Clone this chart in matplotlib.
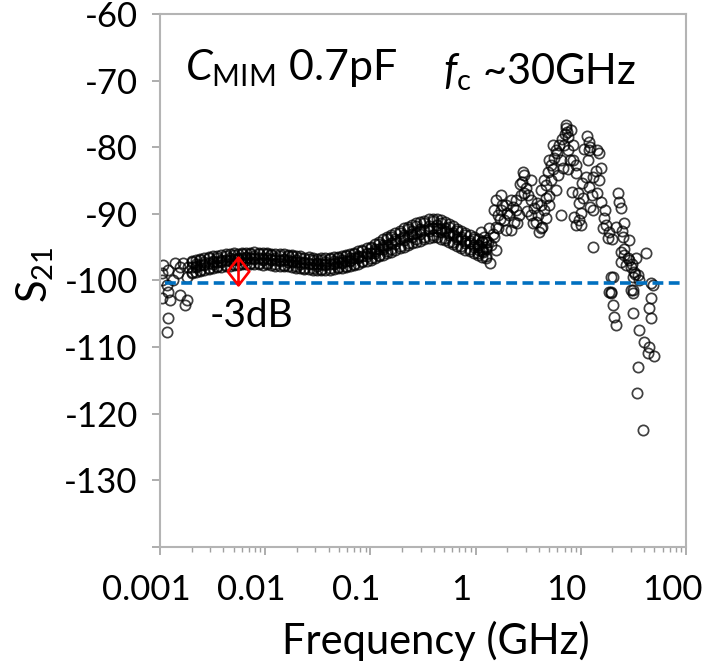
import numpy as np
import matplotlib
matplotlib.use("Agg")
from matplotlib import pyplot as plt
from matplotlib import transforms
from matplotlib.path import Path
from matplotlib.ticker import FixedLocator, LogLocator, NullFormatter

plt.rcParams["font.family"] = ["Lato", "DejaVu Sans"]
plt.rcParams["mathtext.fontset"] = "custom"
plt.rcParams["mathtext.rm"] = "Lato"
plt.rcParams["mathtext.it"] = "Lato:italic"

# dense part of the sweep, 2 MHz .. 1.3 GHz (rows across the thickness of the band)
band_freq = [
    0.0020, 0.0022, 0.0024, 0.0026, 0.0029, 0.0032, 0.0035, 0.0038, 0.0042, 0.0046, 0.0050, 0.0055,
    0.0060, 0.0066, 0.0072, 0.0079, 0.0087, 0.0095, 0.0104, 0.0114, 0.0125, 0.0137, 0.0150, 0.0164,
    0.0180, 0.0197, 0.0216, 0.0236, 0.0259, 0.0283, 0.0310, 0.0340, 0.0370, 0.0410, 0.0450, 0.0490,
    0.0540, 0.0590, 0.0640, 0.0700, 0.0770, 0.0840, 0.0920, 0.1010, 0.1100, 0.1210, 0.1320, 0.1450,
    0.1580, 0.1730, 0.1900, 0.2080, 0.2270, 0.2490, 0.2720, 0.2980, 0.3260, 0.3570, 0.3900, 0.4300,
    0.4700, 0.5100, 0.5600, 0.6100, 0.6700, 0.7300, 0.8000, 0.8800, 0.9600, 1.0500, 1.1500, 1.2600,
]
band_upper = [
    -97.1, -97.0, -96.8, -96.7, -96.5, -96.4, -96.4, -96.2, -96.1, -96.1, -95.9, -96.0,
    -95.8, -95.8, -95.9, -95.7, -95.9, -95.9, -95.8, -96.0, -96.0, -96.1, -96.1, -96.2,
    -96.2, -96.4, -96.4, -96.6, -96.5, -96.7, -96.8, -96.7, -96.7, -96.6, -96.5, -96.5,
    -96.3, -96.2, -96.0, -95.8, -95.6, -95.4, -95.1, -94.9, -94.5, -94.2, -93.8, -93.5,
    -93.1, -92.8, -92.5, -92.1, -91.9, -91.6, -91.4, -91.2, -91.0, -90.8, -90.7, -90.8,
    -90.9, -91.2, -91.5, -91.8, -92.2, -92.5, -92.8, -93.1, -93.4, -93.7, -94.0, -94.2,
]
band_upper2 = [
    -97.3, -97.6, -97.0, -97.3, -96.7, -97.1, -96.6, -96.9, -96.3, -96.7, -96.2, -96.6,
    -96.0, -96.5, -96.1, -96.4, -96.0, -96.6, -96.1, -96.2, -96.7, -96.3, -96.8, -96.4,
    -96.4, -97.0, -96.6, -97.2, -96.8, -96.9, -97.4, -96.9, -97.3, -96.8, -97.1, -96.7,
    -96.9, -96.4, -96.7, -96.0, -96.3, -95.6, -95.9, -95.1, -95.3, -94.5, -94.7, -93.8,
    -93.5, -93.8, -92.9, -93.1, -92.3, -92.6, -91.8, -92.2, -91.4, -91.8, -91.1, -91.7,
    -91.3, -92.1, -91.9, -92.8, -92.5, -93.4, -93.1, -94.0, -93.7, -94.6, -94.2, -94.9,
]
band_mid = [
    -98.0, -97.8, -97.7, -97.5, -97.4, -97.3, -97.2, -97.1, -97.0, -96.9, -96.8, -96.8,
    -96.7, -96.6, -96.7, -96.6, -96.7, -96.8, -96.7, -96.8, -96.9, -96.9, -97.0, -97.0,
    -97.1, -97.2, -97.3, -97.4, -97.4, -97.5, -97.6, -97.6, -97.5, -97.5, -97.4, -97.3,
    -97.2, -97.1, -96.9, -96.7, -96.5, -96.3, -96.1, -95.9, -95.6, -95.3, -95.0, -94.7,
    -94.4, -94.1, -93.8, -93.5, -93.3, -93.0, -92.8, -92.6, -92.4, -92.2, -92.1, -92.1,
    -92.3, -92.6, -92.9, -93.2, -93.5, -93.8, -94.0, -94.3, -94.6, -94.9, -95.2, -95.3,
]
band_lower2 = [
    -98.7, -98.0, -98.4, -97.7, -98.1, -97.5, -97.9, -97.3, -97.7, -97.1, -97.5, -97.0,
    -97.4, -96.9, -97.4, -96.8, -97.4, -97.0, -97.4, -97.0, -97.6, -97.1, -97.7, -97.2,
    -97.3, -97.9, -97.5, -98.1, -97.6, -98.2, -97.8, -98.3, -97.7, -98.2, -97.6, -98.0,
    -97.4, -97.8, -97.1, -97.5, -96.7, -97.1, -96.3, -96.7, -95.9, -96.2, -95.3, -95.6,
    -95.3, -94.5, -94.8, -93.9, -94.3, -93.4, -93.8, -93.0, -93.4, -92.6, -93.1, -92.5,
    -92.7, -93.6, -93.2, -94.2, -93.8, -94.8, -94.4, -95.3, -94.9, -95.9, -95.5, -96.3,
]
band_lower = [
    -98.9, -98.7, -98.6, -98.4, -98.3, -98.2, -98.0, -98.0, -97.9, -97.8, -97.7, -97.7,
    -97.6, -97.5, -97.6, -97.5, -97.6, -97.7, -97.6, -97.7, -97.8, -97.8, -97.9, -97.9,
    -98.0, -98.1, -98.2, -98.3, -98.3, -98.4, -98.4, -98.5, -98.4, -98.4, -98.3, -98.2,
    -98.1, -98.0, -97.9, -97.7, -97.5, -97.3, -97.1, -96.9, -96.7, -96.4, -96.2, -95.9,
    -95.7, -95.4, -95.1, -94.9, -94.7, -94.4, -94.2, -94.0, -93.8, -93.6, -93.5, -93.5,
    -93.7, -93.9, -94.2, -94.5, -94.8, -95.1, -95.4, -95.6, -95.9, -96.2, -96.5, -96.6,
]

# scattered points below 2 MHz
low_freq = [0.00107, 0.00104, 0.00119, 0.00139, 0.00155, 0.00165, 0.00104, 0.00117, 0.00133, 0.00119,
            0.00104, 0.00124, 0.00155, 0.00180, 0.00173, 0.00119, 0.00117, 0.00148, 0.00180, 0.00184]
low_s21 = [-97.7, -98.9, -98.4, -97.4, -98.0, -97.4, -99.9, -100.7, -99.9, -101.7,
           -102.6, -102.9, -102.2, -102.9, -103.7, -105.6, -107.7, -98.9, -99.5, -98.0]

# scattered points above 1 GHz
high_freq = [
    1.116, 1.245, 1.389, 1.068, 1.483, 1.329, 1.166, 1.549, 1.36,
    1.549, 1.73, 1.93, 2.15, 2.40, 1.62, 1.85, 2.06, 2.30, 1.65, 1.93, 2.40, 2.56, 1.48, 2.15, 1.73,
    2.80, 2.86, 2.74, 2.99, 3.12, 2.68, 3.33,
    3.33, 3.56, 3.88, 4.15, 4.63, 3.72, 4.15, 4.63, 3.33, 3.97, 4.43, 4.94,
    4.15, 4.43, 4.83, 5.16, 5.51, 5.76, 6.16, 6.42, 5.39, 4.63, 5.16, 6.02, 6.71, 4.94, 5.76, 6.42,
    7.17, 7.17, 7.33, 7.49, 6.86, 7.49, 7.84,
    8.00, 8.36, 8.36, 8.93, 11.9, 11.9, 14.4, 14.8, 11.6, 11.1, 11.9, 13.2, 15.4, 14.8,
    9.33, 9.53, 10.6, 12.9, 13.2, 8.55, 9.53, 9.96, 8.93, 15.4, 13.2,
    22.4, 22.9, 23.9, 16.5, 17.2, 18.4, 16.1, 18.0, 21.4, 25.5, 25.0, 28.5,
    23.9, 25.5, 27.8, 23.9, 26.7, 29.7, 31.8, 34.7, 33.2, 41.3, 31.1, 20.1,
    46.1, 31.1, 19.2, 19.2, 18.4, 19.2, 20.1, 20.5, 21.4, 29.7, 31.1, 31.1,
    48.1, 46.1, 44.1, 46.1, 35.4, 39.5, 44.1, 43.1, 49.2, 34.7, 33.9, 38.6,
]
high_s21 = [
    -92.7, -93.9, -94.7, -95.4, -93.5, -92.1, -95.7, -95.4, -97.4,
    -87.9, -87.2, -88.7, -87.9, -89.4, -90.2, -90.9, -90.2, -91.2, -92.1, -92.4, -87.9, -90.2, -89.4, -92.4, -89.4,
    -83.7, -84.2, -85.2, -86.1, -87.2, -87.2, -84.9,
    -87.9, -89.1, -90.2, -88.7, -87.6, -91.2, -92.1, -90.6, -90.2, -92.7, -89.4, -88.7,
    -86.4, -84.9, -83.7, -82.7, -81.6, -80.4, -79.7, -81.9, -79.7, -85.7, -84.9, -84.2, -83.1, -81.9, -86.4, -90.2,
    -76.7, -77.1, -77.7, -78.5, -79.7, -80.4, -81.9,
    -77.4, -79.7, -81.9, -83.9, -79.2, -80.4, -80.4, -80.9, -81.9, -84.5, -86.0, -84.5, -83.1, -84.9,
    -86.9, -88.4, -87.6, -87.2, -89.4, -90.5, -90.9, -89.9, -91.7, -88.2, -95.0,
    -86.9, -88.2, -89.1, -90.6, -91.7, -92.7, -92.1, -93.6, -92.0, -91.4, -93.5, -93.9,
    -95.7, -96.2, -96.6, -97.2, -97.7, -98.0, -98.7, -99.2, -96.6, -95.9, -99.5, -99.5,
    -100.4, -101.4, -101.7, -99.5, -101.7, -101.9, -103.7, -105.5, -106.7, -101.4, -101.9, -104.9,
    -100.7, -102.6, -104.1, -105.6, -107.4, -109.2, -110.0, -110.9, -111.3, -113.0, -116.9, -122.4,
]
extra_freq = [
    1.45, 1.30, 1.20, 1.55, 1.70, 1.80, 2.00, 2.25, 2.50, 2.65,
    2.90, 3.10, 3.50, 3.80, 4.30, 5.00, 5.40, 6.00, 6.60, 7.00,
    7.50, 8.20, 9.00, 10.2, 10.8, 11.5, 12.3, 13.8, 14.1, 12.1,
    10.0, 16.8, 19.8, 24.5, 26.0, 28.9, 30.5, 33.0, 35.5,
]
extra_s21 = [
    -93.0, -94.2, -93.4, -91.9, -90.7, -88.6, -89.9, -88.9, -91.3, -85.5,
    -86.9, -89.6, -91.4, -88.3, -91.9, -87.3, -83.2, -80.9, -78.8, -78.0,
    -83.3, -86.7, -82.6, -85.4, -80.2, -78.3, -79.9, -83.6, -86.8, -88.9,
    -91.6, -89.4, -93.8, -92.6, -95.3, -96.9, -97.5, -99.0, -100.0,
]

cutoff_level = -100.4      # -3 dB reference line
marker_freq = 0.0055       # red -3 dB marker
marker_s21 = -98.6

y_ticks = [-140, -130, -120, -110, -100, -90, -80, -70, -60]
y_labels = ["", "-130", "-120", "-110", "-100", "-90", "-80", "-70", "-60"]
x_ticks = [0.001, 0.01, 0.1, 1, 10, 100]
x_labels = ["0.001", "0.01", "0.1", "1", "10", "100"]

fig = plt.figure(figsize=(7.12, 6.63), dpi=100)
ax = fig.add_axes([0.2247, 0.175, 0.7388, 0.8039])

freq = np.concatenate([low_freq, band_freq, band_freq, band_freq, band_freq, band_freq,
                       high_freq, extra_freq])
s21 = np.concatenate([low_s21, band_upper, band_upper2, band_mid, band_lower2, band_lower,
                      high_s21, extra_s21])
ax.plot(freq, s21, linestyle="none", marker="o", markersize=7.4,
        markerfacecolor="none", markeredgecolor=(0, 0, 0, 0.75), markeredgewidth=1.25)

ax.axhline(cutoff_level, xmin=0.01, xmax=0.995, color="#0070C0", lw=2.6, dashes=(3.0, 1.5))

# diamond with a vertical bar through it
diamond = Path([(-0.78, 0), (0, 1), (0.78, 0), (0, -1), (-0.78, 0), (0, 1), (0, -1)],
               [Path.MOVETO, Path.LINETO, Path.LINETO, Path.LINETO, Path.LINETO, Path.MOVETO, Path.LINETO])
ax.plot([marker_freq], [marker_s21], linestyle="none", marker=diamond, markersize=20,
        markerfacecolor="none", markeredgecolor="#FF0000", markeredgewidth=1.9)

ax.set_xscale("log")
ax.set_xlim(0.001, 100)
ax.set_ylim(-140, -60)

ax.xaxis.set_major_locator(FixedLocator(x_ticks))
ax.set_xticklabels(x_labels)
ax.xaxis.set_minor_locator(LogLocator(base=10, subs=np.arange(2, 10)))
ax.xaxis.set_minor_formatter(NullFormatter())
ax.set_yticks(y_ticks)
ax.set_yticklabels(y_labels)

for side in ["left", "bottom", "top", "right"]:
    ax.spines[side].set_color("#B4B4B4")
    ax.spines[side].set_linewidth(1.5)

ax.tick_params(axis="x", which="major", direction="out", length=5.5, width=1.2, color="#A0A0A0",
               labelsize=25, pad=14)
ax.tick_params(axis="x", which="minor", direction="out", length=3.5, width=1.0, color="#A0A0A0")
ax.tick_params(axis="y", which="major", direction="out", length=6, width=1.2, color="#A0A0A0",
               labelsize=25, pad=10)

# the x labels sit a little left of their ticks in the reference
shift = transforms.ScaledTranslation(-0.14, 0, fig.dpi_scale_trans)
for lab in ax.get_xticklabels():
    lab.set_transform(lab.get_transform() + shift)

ax.text(0.048, 0.876, r"$\mathit{C}_{\mathrm{MIM}}$ 0.7pF", transform=ax.transAxes,
        fontsize=31, va="baseline", ha="left")
ax.text(0.538, 0.867, r"$\mathit{f}_{\mathrm{c}}$ ~30GHz", transform=ax.transAxes,
        fontsize=30, va="baseline", ha="left")
ax.text(0.095, 0.413, "-3dB", transform=ax.transAxes, fontsize=28, va="baseline", ha="left")

fig.text(0.612, 0.014, "Frequency (GHz)", fontsize=30, ha="center", va="baseline")
fig.text(0.05, 0.585, r"S$_{21}$", fontsize=30, ha="center", va="center", rotation=90)

fig.savefig("out.png", dpi=100)
